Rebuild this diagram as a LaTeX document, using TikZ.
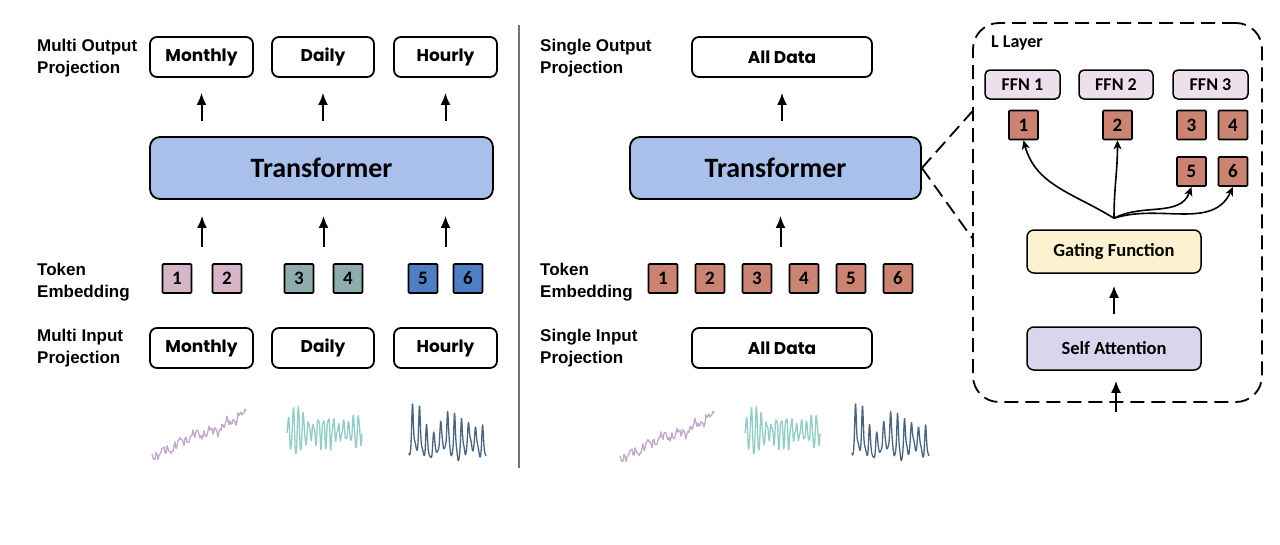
\documentclass[tikz,border=0pt]{standalone}
\usepackage{fontspec}
\setmainfont{Liberation Sans}
\newfontfamily\carl{Carlito}
\newfontfamily\comic{Poppins}
\usetikzlibrary{arrows.meta,calc}
\definecolor{transblue}{HTML}{A9C0EB}
\definecolor{tokpink}{HTML}{D6B5C8}
\definecolor{tokteal}{HTML}{8EACAD}
\definecolor{tokblue}{HTML}{4F7EC2}
\definecolor{toksalmon}{HTML}{CB8472}
\definecolor{ffnfill}{HTML}{EEE0EB}
\definecolor{gatefill}{HTML}{FCF2CF}
\definecolor{safill}{HTML}{D9D5EC}
\definecolor{wmonth}{HTML}{C2A8CF}
\definecolor{wday}{HTML}{92CDC8}
\definecolor{whour}{HTML}{4A6580}
\newcommand\wavemonthly[2]{\draw[wmonth, line width=1.3pt, line join=round] plot[domain=0:94, samples=95] ({#1+\x},{#2 - 0.42*\x + 2.5*sin(\x*61) + 1.6*sin(\x*137+20) + 3*sin(\x*23) - 2*sin(\x*97+50) + 2*sin(\x*7)});}
\newcommand\wavedaily[2]{\draw[wday, line width=1.3pt, line join=round] plot[domain=0:75, samples=226] ({#1+\x},{#2 - (11+4*sin(\x*11+30)+12*exp(-(\x-12)^2/40))*sin(\x*72) - 6*pow(abs(sin(\x*36)),8) + 3*sin(\x*151) + 2*sin(\x*43)});}
\newcommand\wavehourly[2]{\draw[whour, line width=1.3pt, line join=round] plot[domain=0:77, samples=232] ({#1+\x},{#2 - 34*pow(abs(sin(\x*25.7)),10)*(0.65+0.35*sin(\x*9+40)) + 7*sin(\x*51.4+60) - 5*sin(\x*13) + 2*sin(\x*97)});}
\begin{document}
\begin{tikzpicture}[x=1pt, y=-1pt,
  lbl/.style={font=\fontsize{17}{22}\selectfont\bfseries, align=left, inner sep=0pt, anchor=west},
  projbox/.style={draw, line width=1.8pt, rounded corners=7pt, minimum height=40pt, inner sep=0pt, fill=white, font=\comic\fontsize{17}{20}\selectfont\bfseries},
  trans/.style={draw, line width=1.8pt, rounded corners=10pt, fill=transblue, minimum height=62pt, inner sep=0pt, font=\carl\bfseries\fontsize{28}{30}\selectfont},
  tok/.style={draw, line width=1.6pt, minimum size=29pt, inner sep=0pt, rounded corners=1pt, font=\carl\bfseries\fontsize{19}{20}\selectfont},
  arr/.style={line width=2pt, -{Latex[length=12pt,width=10pt]}},
  carr/.style={line width=1.6pt, -{Stealth[length=9pt,width=8pt,inset=2.5pt]}},
  dsh/.style={line width=1.8pt, dash pattern=on 14pt off 7pt},
  ffn/.style={draw, line width=1.5pt, rounded corners=5pt, fill=ffnfill, minimum height=29pt, minimum width=75pt, inner sep=0pt, font=\carl\bfseries\fontsize{18}{20}\selectfont},
  inner/.style={draw, line width=1.5pt, rounded corners=7pt, minimum height=43pt, minimum width=174pt, inner sep=0pt, font=\carl\bfseries\fontsize{18.5}{20}\selectfont}
]
\fill[white] (0,0) rectangle (1280,544);
\useasboundingbox (0,0) rectangle (1280,544);

% ---------- left panel ----------
\node[lbl] (lo) at (37,58.6) {Multi Output\\Projection};
\node[projbox, minimum width=103pt] (mo) at (201.5,57) {Monthly};
\node[projbox, minimum width=102pt] (dou) at (323,57) {Daily};
\node[projbox, minimum width=103pt] (ho) at (445.5,57) {Hourly};
\node[trans, minimum width=343pt] (trL) at (321.5,168) {Transformer};
\node[lbl] (lt) at (37,282.6) {Token\\Embedding};
\node[tok, fill=tokpink] (a1) at (177,278.5) {1};
\node[tok, fill=tokpink] (a2) at (227,278.5) {2};
\node[tok, fill=tokteal] (a3) at (299,278.5) {3};
\node[tok, fill=tokteal] (a4) at (348,278.5) {4};
\node[tok, fill=tokblue] (a5) at (423,278.5) {5};
\node[tok, fill=tokblue] (a6) at (468,278.5) {6};
\node[lbl] (li) at (37,348) {Multi Input\\Projection};
\node[projbox, minimum width=103pt] (mi) at (201.5,348) {Monthly};
\node[projbox, minimum width=102pt] (di) at (323,348) {Daily};
\node[projbox, minimum width=103pt] (hi) at (445.5,348) {Hourly};

\foreach \b in {mo,dou,ho}
  \draw[arr, shorten <=15pt, shorten >=15pt] (trL.north -| \b.south) -- (\b.south);
\coordinate (m12) at ($(a1.north)!.5!(a2.north)$);
\coordinate (m34) at ($(a3.north)!.5!(a4.north)$);
\coordinate (m56) at ($(a5.north)!.5!(a6.north)$);
\foreach \m in {m12,m34,m56}
  \draw[arr, shorten <=16pt, shorten >=16pt] (\m) -- (\m |- trL.south);

\wavemonthly{152}{455}
\wavedaily{287}{433}
\wavehourly{409}{447}

% divider
\draw[black!55, line width=1.4pt] (519,25) -- (519,468);

% ---------- middle panel ----------
\node[lbl] (so) at (540,58.6) {Single Output\\Projection};
\node[projbox, minimum width=180pt] (aout) at (782,57) {All Data};
\node[trans, minimum width=291pt] (trM) at (775.5,168) {Transformer};
\node[lbl] (st) at (540,282.6) {Token\\Embedding};
\foreach \i/\xx in {1/663,2/710,3/757,4/804,5/851,6/898}
  \node[tok, fill=toksalmon] (b\i) at (\xx,278.5) {\i};
\node[lbl] (si) at (540,348) {Single Input\\Projection};
\node[projbox, minimum width=180pt] (ain) at (782,348) {All Data};
\draw[arr, shorten <=15pt, shorten >=15pt] (trM.north -| aout.south) -- (aout.south);
\coordinate (m34b) at ($(b3.north)!.5!(b4.north)$);
\draw[arr, shorten <=16pt, shorten >=16pt] (m34b) -- (m34b |- trM.south);

\wavemonthly{620}{457}
\wavedaily{745}{433}
\wavehourly{852}{447}

% ---------- L layer ----------
\node[dsh, draw, rounded corners=26pt, minimum width=289pt, minimum height=379pt, inner sep=0pt] (ll) at (1117.5,212.5) {};
\draw[dsh] (trM.east) -- ($(ll.north west)!0.235!(ll.south west)$);
\draw[dsh] (trM.east) -- ($(ll.north west)!0.567!(ll.south west)$);
\node[anchor=west, inner sep=0pt, font=\carl\bfseries\fontsize{18}{20}\selectfont] (lname) at (991,43) {L Layer};
\node[ffn] (f1) at (1022.5,84.5) {FFN 1};
\node[ffn, minimum width=74pt] (f2) at (1116,84.5) {FFN 2};
\node[ffn] (f3) at (1210.5,84.5) {FFN 3};
\node[tok, fill=toksalmon] (s1) at (1023.5,125) {1};
\node[tok, fill=toksalmon] (s2) at (1117.5,125) {2};
\node[tok, fill=toksalmon] (s3) at (1191.5,125) {3};
\node[tok, fill=toksalmon] (s4) at (1233,125) {4};
\node[tok, fill=toksalmon] (s5) at (1191.5,171.5) {5};
\node[tok, fill=toksalmon] (s6) at (1233,171.5) {6};
\node[inner, fill=gatefill] (gate) at (1114,251.5) {Gating Function};
\node[inner, fill=safill] (sa) at (1114,348.5) {Self Attention};
\coordinate (gtop) at ($(gate.north)+(0,-11)$);
\draw[carr] (gtop) to[out=148,in=-75] (s1.south);
\draw[carr] (gtop) to[out=90,in=-90] (s2.south);
\draw[carr] (gtop) to[out=28,in=-110] (s5.south);
\draw[carr] (gtop) to[out=18,in=-115] (s6.south);
\draw[arr, shorten <=12pt, shorten >=12pt] (sa.north) -- (gate.south);
\coordinate (sain) at (1116,412);
\draw[arr, shorten >=10pt] (sain) -- (sain |- sa.south);
\end{tikzpicture}
\end{document}
